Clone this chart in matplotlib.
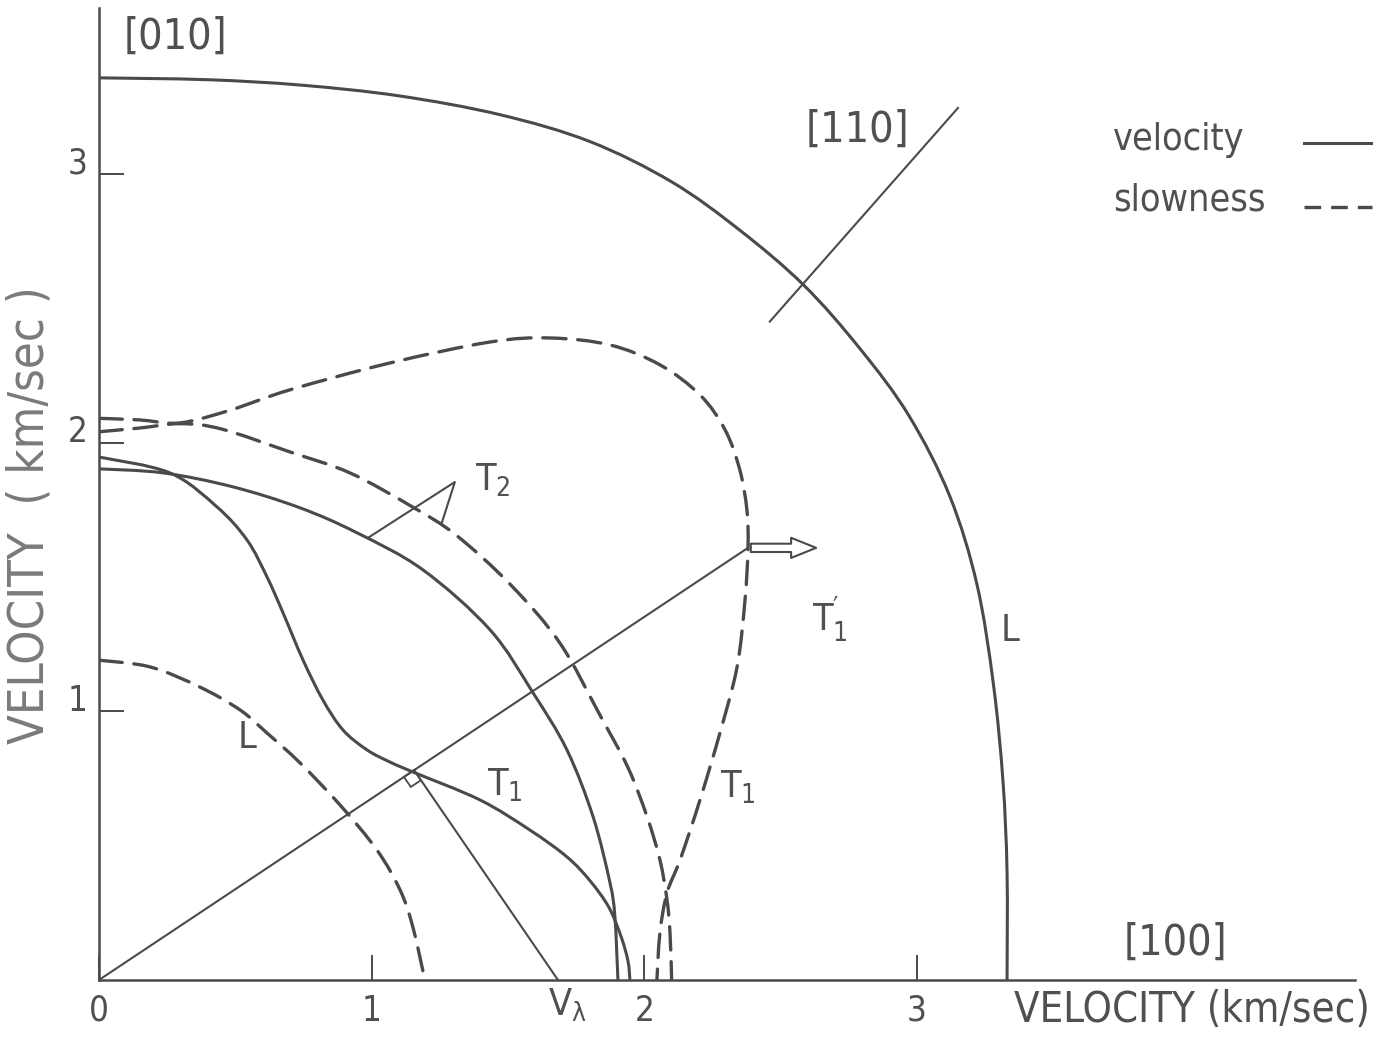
import numpy as np
import matplotlib.pyplot as plt
from matplotlib import font_manager
from matplotlib.patches import FancyArrowPatch, Polygon, PathPatch
from matplotlib.path import Path
import matplotlib.transforms as mtransforms

# pick a narrow lettering font if there is one
installed = {f.name for f in font_manager.fontManager.ttflist}
FONT = 'Liberation Sans Narrow' if 'Liberation Sans Narrow' in installed else 'DejaVu Sans'
plt.rcParams['font.family'] = [FONT, 'DejaVu Sans']
plt.rcParams['font.stretch'] = 'condensed'
plt.rcParams['mathtext.fontset'] = 'custom'
plt.rcParams['mathtext.rm'] = FONT
plt.rcParams['mathtext.it'] = FONT

INK = '#4a4a4a'
TXT = '#505050'

# ---- curves (km/sec) ----
# longitudinal velocity surface
L_vel_x = [0.0, 0.40, 0.74, 1.10, 1.47, 1.80, 2.10, 2.35, 2.585, 2.79, 2.97, 3.12, 3.22, 3.28, 3.315, 3.33, 3.33]
L_vel_y = [3.357, 3.35, 3.33, 3.29, 3.22, 3.12, 2.97, 2.79, 2.585, 2.35, 2.10, 1.80, 1.47, 1.10, 0.74, 0.40, 0.0]

# T2 velocity
T2_vel_x = [0.0, 0.235, 0.491, 0.737, 0.946, 1.188, 1.434, 1.592, 1.716, 1.812, 1.874, 1.892, 1.903]
T2_vel_y = [1.902, 1.887, 1.835, 1.757, 1.664, 1.526, 1.303, 1.068, 0.856, 0.607, 0.361, 0.234, 0.0]

# T1 velocity (with the inflection)
T1_vel_x = [0.0, 0.26, 0.433, 0.543, 0.616, 0.675, 0.748, 0.821, 0.895, 0.983, 1.067, 1.151,
            1.397, 1.58, 1.716, 1.80, 1.87, 1.915, 1.94, 1.947]
T1_vel_y = [1.946, 1.887, 1.76, 1.637, 1.50, 1.366, 1.191, 1.042, 0.930, 0.856, 0.811, 0.774,
            0.67, 0.558, 0.458, 0.37, 0.27, 0.16, 0.07, 0.0]

# L slowness
L_slow_x = [0.0, 0.187, 0.37, 0.517, 0.616, 0.737, 0.884, 1.019, 1.104, 1.151, 1.195]
L_slow_y = [1.19, 1.165, 1.09, 1.005, 0.919, 0.808, 0.651, 0.484, 0.335, 0.197, 0.0]

# T2 slowness
T2_slow_x = [0.0, 0.15, 0.30, 0.45, 0.70, 0.92, 1.15, 1.31, 1.51, 1.69, 1.84, 1.94, 2.01, 2.057, 2.083, 2.094, 2.10]
T2_slow_y = [2.04, 2.054, 2.07, 2.05, 1.965, 1.887, 1.76, 1.655, 1.47, 1.254, 0.98, 0.79, 0.607, 0.447, 0.298, 0.175, 0.0]

# T1 slowness (the big loop)
T1_slow_x = [0.0, 0.15, 0.297, 0.48, 0.70, 1.067, 1.434, 1.654, 1.874, 2.057, 2.204, 2.296, 2.35,
             2.376, 2.38, 2.369, 2.34, 2.277, 2.204, 2.131, 2.083, 2.057, 2.046]
T1_slow_y = [2.09, 2.084, 2.073, 2.12, 2.196, 2.296, 2.374, 2.389, 2.363, 2.289, 2.177, 2.047, 1.898,
             1.749, 1.608, 1.414, 1.165, 0.919, 0.67, 0.447, 0.324, 0.175, 0.0]

# construction lines
ray_end = (2.38, 1.608)        # point on T1 slowness where the normal is horizontal
v_lambda = 1.683               # V_lambda on the [100] axis
dir110_x = [2.46, 3.15]
dir110_y = [2.45, 3.245]
t2_bracket_x = [0.986, 1.305, 1.258]
t2_bracket_y = [1.645, 1.853, 1.704]

x_ticks = [0, 1, 2, 3]
y_ticks = [1, 2, 3]


def smooth_path(xs, ys):
    """French-curve style: cubic Bezier pieces through the read points (Catmull-Rom)."""
    p = np.column_stack([xs, ys])
    ext = np.vstack([p[0], p, p[-1]])
    verts = [p[0]]
    codes = [Path.MOVETO]
    for i in range(1, len(ext) - 2):
        p0, p1, p2, p3 = ext[i - 1], ext[i], ext[i + 1], ext[i + 2]
        verts += [p1 + (p2 - p0) / 6, p2 - (p3 - p1) / 6, p2]
        codes += [Path.CURVE4] * 3
    return Path(verts, codes)


fig = plt.figure(figsize=(13.73, 10.5), dpi=100)
ax = fig.add_axes([0.0721, 0.0667, 0.9148, 0.9257])
ax.set_xlim(0, 4.606)
ax.set_ylim(0, 3.617)

for s in ('top', 'right'):
    ax.spines[s].set_visible(False)
for s in ('left', 'bottom'):
    ax.spines[s].set_color(INK)
    ax.spines[s].set_linewidth(1.8)

ax.set_xticks(x_ticks, [str(t) for t in x_ticks])
ax.set_yticks(y_ticks, [str(t) for t in y_ticks])
ax.tick_params(direction='in', length=18, width=1.4, color=INK,
               labelsize=25, labelcolor=TXT)
ax.tick_params(axis='x', pad=10)
ax.tick_params(axis='y', pad=8)
# y labels sit a little above their ticks
shift = mtransforms.ScaledTranslation(0, 10 / 72, fig.dpi_scale_trans)
for lab in ax.get_yticklabels():
    lab.set_transform(lab.get_transform() + shift)

solid = dict(ec=INK, lw=2.2, fill=False, capstyle='butt')
dashed = dict(ec=INK, lw=2.4, fill=False, ls=(0, (7, 3.5)), capstyle='round')

for xs, ys in [(L_vel_x, L_vel_y), (T2_vel_x, T2_vel_y), (T1_vel_x, T1_vel_y)]:
    ax.add_patch(PathPatch(smooth_path(xs, ys), **solid))
for xs, ys in [(L_slow_x, L_slow_y), (T2_slow_x, T2_slow_y), (T1_slow_x, T1_slow_y)]:
    ax.add_patch(PathPatch(smooth_path(xs, ys), **dashed))

# ray from origin, its normal down to V_lambda, right-angle mark
thin = dict(color=INK, lw=1.5)
ax.plot([0, ray_end[0]], [0, ray_end[1]], **thin)
u = np.array(ray_end) / np.hypot(*ray_end)
foot = np.dot([v_lambda, 0], u) * u
ax.plot([foot[0], v_lambda], [foot[1], 0], **thin)
v = np.array([v_lambda, 0]) - foot
v = v / np.hypot(*v)
s = 0.045
sq = [foot, foot + s * v, foot + s * v - s * u, foot - s * u]
ax.add_patch(Polygon(sq, closed=True, fill=False, ec=INK, lw=1.3))

ax.plot(dir110_x, dir110_y, **thin)
ax.plot(t2_bracket_x, t2_bracket_y, **thin)

# hollow arrow for the energy flow direction
arr = FancyArrowPatch(ray_end, (ray_end[0] + 0.26, ray_end[1]),
                      arrowstyle='simple,head_length=1.8,head_width=1.45,tail_width=0.6',
                      mutation_scale=10, fc='white', ec=INK, lw=1.5)
ax.add_patch(arr)

# curve labels
lab = dict(color=TXT, fontsize=27)
ax.text(1.379, 1.861, r'$\mathrm{T}_2$', ha='left', va='center', **lab)
ax.text(1.423, 0.726, r'$\mathrm{T}_1$', ha='left', va='center', **lab)
ax.text(2.277, 0.715, r'$\mathrm{T}_1$', ha='left', va='center', **lab)
ax.text(2.615, 1.34, r"$\mathrm{T}_1'$", ha='left', va='center', **lab)
ax.text(0.543, 0.90, 'L', ha='center', va='center', **lab)
ax.text(3.34, 1.30, 'L', ha='center', va='center', **lab)
ax.text(1.646, -0.093, r'$\mathrm{V}_\lambda$', ha='left', va='center', clip_on=False, **lab)

# crystal directions
big = dict(color=TXT, fontsize=31)
ax.text(0.279, 3.51, '[010]', ha='center', va='center', **big)
ax.text(2.78, 3.163, '[110]', ha='center', va='center', **big)
ax.text(3.946, 0.138, '[100]', ha='center', va='center', **big)

# key
ax.text(3.718, 3.126, 'velocity', ha='left', va='center', **lab)
ax.text(3.718, 2.90, 'slowness', ha='left', va='center', **lab)
ax.plot([4.42, 4.67], [3.115, 3.115], clip_on=False, color=INK, lw=2.2)
ax.plot([4.42, 4.67], [2.877, 2.877], clip_on=False, color=INK, lw=2.4, ls=(0, (5, 3)))

# axis titles
fig.text(1192 / 1373, 1 - 1010 / 1050, 'VELOCITY (km/sec)', ha='center', va='center',
         color=TXT, fontsize=30)
fig.text(30 / 1373, 1 - 515 / 1050, 'VELOCITY  ( km/sec )', ha='center', va='center',
         rotation=90, color='#7a7a7a', fontsize=35)

fig.savefig('out.png', dpi=100, facecolor='white')
